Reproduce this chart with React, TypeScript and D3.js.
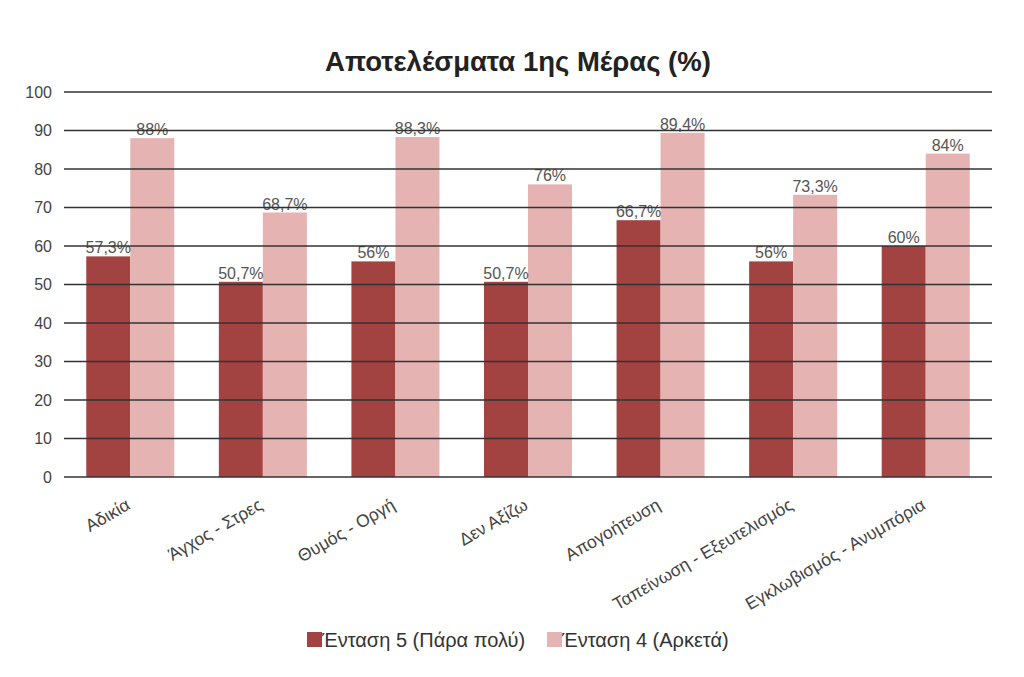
import { useEffect, useRef } from "react";
import * as d3 from "d3";

// Results of day 1, % per emotion at two intensity levels
const CATEGORIES = [
  "Αδικία",
  "Άγχος - Στρες",
  "Θυμός - Οργή",
  "Δεν Αξίζω",
  "Απογοήτευση",
  "Ταπείνωση - Εξευτελισμός",
  "Εγκλωβισμός - Ανυμπόρια",
];
const INTENSITY_5 = [57.3, 50.7, 56, 50.7, 66.7, 56, 60];
const INTENSITY_4 = [88, 68.7, 88.3, 76, 89.4, 73.3, 84];
const SERIES_NAMES = ["Ένταση 5 (Πάρα πολύ)", "Ένταση 4 (Αρκετά)"];
const Y_TICKS = [0, 10, 20, 30, 40, 50, 60, 70, 80, 90, 100];

const COLORS = ["#a24241", "#e6b3b3"];
const FONT = "'Liberation Sans', Arial, sans-serif";

export default function App() {
  const ref = useRef<SVGSVGElement>(null);

  useEffect(() => {
    const svg = d3.select(ref.current!);
    svg.selectAll("*").remove();

    const W = 1024;
    const H = 677;
    const m = { left: 64, right: 32, top: 92, bottom: 200 };
    const innerW = W - m.left - m.right;
    const innerH = H - m.top - m.bottom;

    svg.append("rect").attr("width", W).attr("height", H).attr("fill", "#fff");

    svg
      .append("text")
      .attr("x", 518)
      .attr("y", 71)
      .attr("text-anchor", "middle")
      .attr("font-family", FONT)
      .attr("font-weight", "bold")
      .attr("font-size", 27.5)
      .attr("fill", "#222")
      .text("Αποτελέσματα 1ης Μέρας (%)");

    const g = svg.append("g").attr("transform", `translate(${m.left},${m.top})`);

    const x = d3
      .scaleBand<string>()
      .domain(CATEGORIES)
      .range([0, innerW])
      .paddingInner(0.336)
      .paddingOuter(0.168);
    const xs = d3
      .scaleBand<number>()
      .domain([0, 1])
      .range([0, x.bandwidth()]);
    const y = d3.scaleLinear().domain([0, 100]).range([innerH, 0]);

    // bars (under grid lines)
    const data = [INTENSITY_5, INTENSITY_4];
    const groups = g
      .append("g")
      .selectAll("g")
      .data(CATEGORIES)
      .join("g")
      .attr("transform", (c) => `translate(${x(c)},0)`);
    groups
      .selectAll("rect")
      .data((_, i) => data.map((s, k) => ({ k, v: s[i] })))
      .join("rect")
      .attr("x", (d) => xs(d.k)!)
      .attr("width", xs.bandwidth())
      .attr("y", (d) => y(d.v))
      .attr("height", (d) => innerH - y(d.v))
      .attr("fill", (d) => COLORS[d.k]);

    // grid + y axis labels
    const grid = g.append("g");
    grid
      .selectAll("line")
      .data(Y_TICKS)
      .join("line")
      .attr("x1", 0)
      .attr("x2", innerW)
      .attr("y1", (d) => y(d))
      .attr("y2", (d) => y(d))
      .attr("stroke", "#333")
      .attr("stroke-width", 1.6);
    grid
      .selectAll("text")
      .data(Y_TICKS)
      .join("text")
      .attr("x", -12)
      .attr("y", (d) => y(d))
      .attr("dy", "0.35em")
      .attr("text-anchor", "end")
      .attr("font-family", FONT)
      .attr("font-size", 16)
      .attr("fill", "#444")
      .text((d) => d);

    // value labels
    const fmt = (v: number) => `${String(v).replace(".", ",")}%`;
    groups
      .selectAll("text")
      .data((_, i) => data.map((s, k) => ({ k, v: s[i] })))
      .join("text")
      .attr("x", (d) => xs(d.k)! + xs.bandwidth() / 2)
      .attr("y", (d) => y(d.v) - 3)
      .attr("text-anchor", "middle")
      .attr("font-family", FONT)
      .attr("font-size", 16)
      .attr("fill", "#555")
      .text((d) => fmt(d.v));

    // category labels
    g.append("g")
      .selectAll("text")
      .data(CATEGORIES)
      .join("text")
      .attr(
        "transform",
        (c) => `translate(${x(c)! + x.bandwidth() / 2 - 2},${innerH + 26}) rotate(-30)`,
      )
      .attr("text-anchor", "end")
      .attr("dy", "0.35em")
      .attr("font-family", FONT)
      .attr("font-size", 17.5)
      .attr("fill", "#444")
      .text((c) => c);

    // legend
    const legend = svg.append("g").attr("transform", "translate(307,639.5)");
    const offsets = [0, 240];
    SERIES_NAMES.forEach((name, k) => {
      const lg = legend.append("g").attr("transform", `translate(${offsets[k]},0)`);
      lg.append("rect")
        .attr("x", 0)
        .attr("y", -7.5)
        .attr("width", 15)
        .attr("height", 15)
        .attr("fill", COLORS[k]);
      lg.append("text")
        .attr("x", 15)
        .attr("y", 0)
        .attr("dy", "0.35em")
        .attr("font-family", FONT)
        .attr("font-size", 20)
        .attr("fill", "#333")
        .text(name);
    });
  }, []);

  return (
    <svg
      ref={ref}
      width={1024}
      height={677}
      style={{ display: "block", margin: "-8px" }}
    />
  );
}
